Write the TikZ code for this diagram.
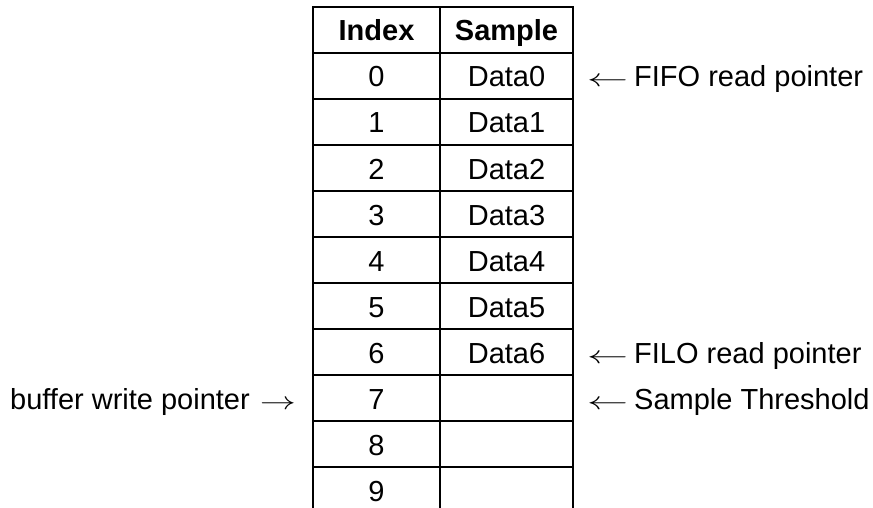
\documentclass[tikz,border=0pt]{standalone}
\usepackage{fontspec}
\setmainfont{Liberation Sans}
\usepackage{graphicx}
\begin{document}
\begin{tikzpicture}[x=1pt,y=-1pt,
  grid/.style={line width=2pt,line cap=rect},
  cell/.style={anchor=base,inner sep=0pt,font=\fontsize{29}{34}\selectfont},
  head/.style={cell,font=\fontsize{29}{34}\selectfont\bfseries},
  lbl/.style={inner sep=0pt,font=\fontsize{29}{34}\selectfont}]
\useasboundingbox (0,0) rectangle (873,508);
% grid
\foreach \x in {313,440,573} \draw[grid] (\x,7) -- (\x,510);
\foreach \k in {0,...,10} \draw[grid] (313,7+46*\k) -- (573,7+46*\k);
% header
\node[head] (hi) at (376.5,41) {Index};
\node[head] (hs) at (506.5,41) {Sample};
% rows
\foreach \k in {0,...,9} {
  \node[cell] (i\k) at (376.5,87+46*\k) {\k};
}
\foreach \k in {0,...,6} {
  \node[cell] (s\k) at (506.5,87+46*\k) {Data\k};
}
\newcommand{\larr}{\resizebox{41pt}{\height}{$\leftarrow$}\hspace{6pt}}
\newcommand{\rarr}{\hspace{10pt}\resizebox{36pt}{\height}{$\rightarrow$}}
\node[lbl,anchor=base west] (fifo) at (587,87) {\larr FIFO read pointer};
\node[lbl,anchor=base west] (filo) at (587,363) {\larr FILO read pointer};
\node[lbl,anchor=base west] (thr) at (587,409) {\larr Sample Threshold};
\node[lbl,anchor=base east] (bwp) at (296,409) {buffer write pointer\rarr};
\end{tikzpicture}
\end{document}
